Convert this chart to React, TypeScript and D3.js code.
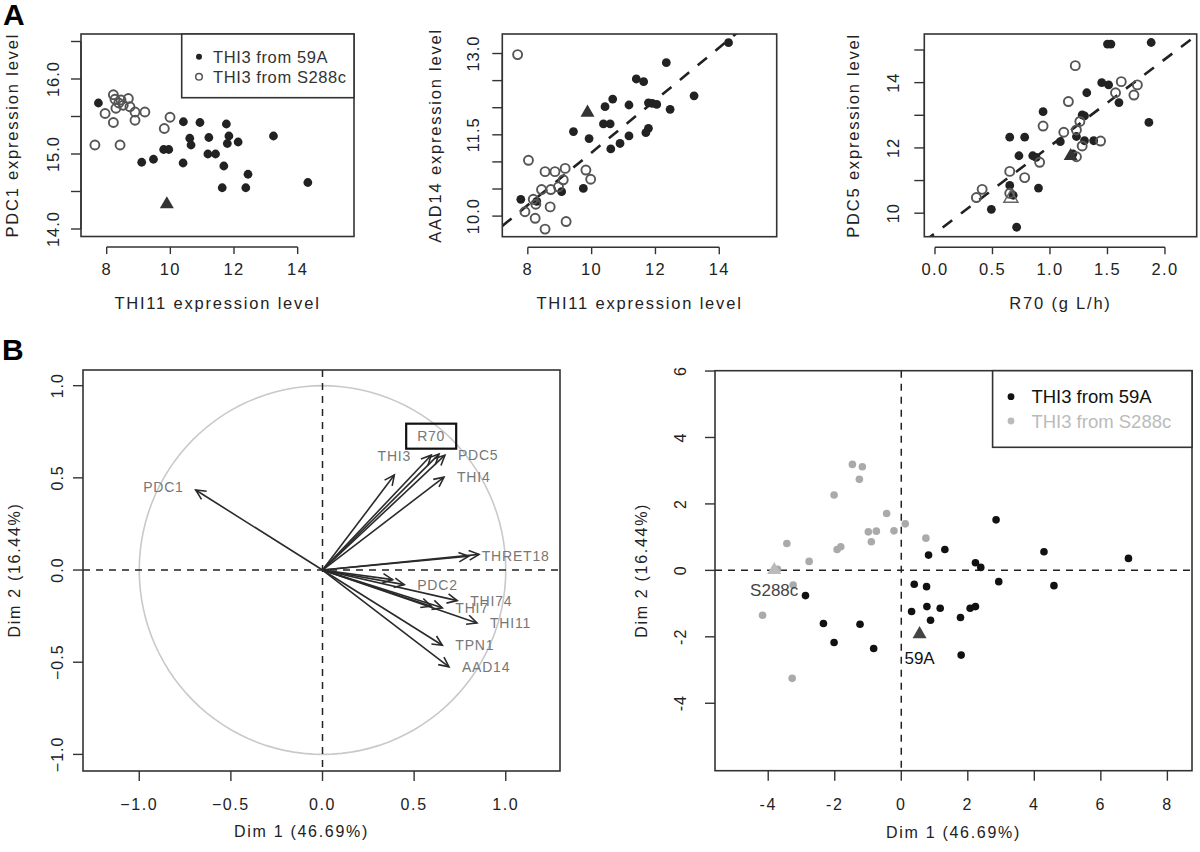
import React from "react";
import * as d3 from "d3";

const FONT = "'Liberation Sans', Arial, Helvetica, sans-serif";
type Pt = [number, number];

// ---------------- Panel A1 : THI11 vs PDC1 ----------------
const a1From59A: Pt[] = [[7.74,15.68],[10.41,15.43],[10.93,15.42],[11.76,15.40],[10.61,15.21],[10.65,15.12],[11.21,15.22],[11.84,15.24],[11.79,15.14],[12.13,15.16],[13.24,15.24],[9.79,15.06],[9.95,15.06],[9.10,14.89],[9.47,14.93],[10.40,14.88],[11.18,15.00],[11.42,15.00],[11.68,14.84],[12.44,14.73],[11.63,14.55],[12.37,14.55],[14.32,14.62]];
const a1FromS288c: Pt[] = [[8.21,15.79],[8.68,15.74],[8.26,15.73],[8.52,15.65],[8.73,15.63],[7.95,15.54],[8.29,15.61],[8.89,15.56],[9.20,15.56],[8.21,15.42],[8.89,15.45],[9.99,15.49],[9.81,15.34],[7.63,15.12],[8.42,15.12],[8.45,15.72],[8.38,15.68]];
const a1Parent59A: Pt[] = [[9.89,14.33]];

// ---------------- Panel A2 : THI11 vs AAD14 ----------------
const a2From59A: Pt[] = [[14.29,13.20],[12.34,12.83],[11.40,12.53],[11.63,12.48],[13.21,12.22],[10.66,12.16],[10.42,12.02],[11.17,12.05],[11.78,12.09],[11.90,12.08],[12.04,12.06],[12.46,11.97],[10.37,11.70],[10.58,11.70],[11.78,11.62],[11.70,11.54],[9.43,11.56],[9.92,11.43],[11.17,11.48],[10.89,11.34],[10.60,11.24],[9.74,10.51],[9.06,10.45],[7.78,10.31],[8.28,10.27]];
const a2FromS288c: Pt[] = [[7.68,12.98],[8.02,11.03],[8.54,10.82],[8.85,10.82],[9.17,10.88],[9.82,10.85],[9.97,10.68],[9.11,10.67],[8.43,10.49],[8.72,10.49],[8.96,10.54],[8.17,10.31],[8.25,10.22],[8.70,10.17],[7.91,10.08],[8.23,9.96],[9.20,9.90],[8.54,9.76]];
const a2Parent59A: Pt[] = [[9.87,11.91]];
const a2Fit = { intercept: 6.33, slope: 0.4843 };

// ---------------- Panel A3 : R70 vs PDC5 ----------------
const a3From59A: Pt[] = [[1.53,15.18],[1.50,15.18],[1.88,15.23],[1.45,14.00],[1.51,13.93],[1.32,13.69],[1.60,13.39],[0.94,13.11],[1.28,13.01],[1.30,12.98],[0.65,12.33],[0.78,12.33],[0.73,11.76],[0.85,11.76],[0.88,11.71],[1.09,12.19],[1.23,12.35],[1.30,12.22],[1.38,12.22],[1.20,11.82],[0.65,10.85],[0.90,10.77],[0.49,10.12],[0.71,9.57],[1.86,12.78],[0.68,10.55]];
const a3FromS288c: Pt[] = [[1.22,14.52],[1.16,13.42],[1.62,14.03],[1.76,13.93],[1.57,13.69],[1.73,13.62],[1.26,12.81],[1.23,12.55],[1.12,12.48],[1.44,12.21],[1.28,12.06],[1.23,11.73],[0.94,12.67],[0.91,11.56],[0.65,11.28],[0.78,11.09],[0.41,10.73],[0.36,10.48],[0.65,10.61]];
const a3Parent59A: Pt[] = [[1.18,11.75]];
const a3ParentS288c: Pt[] = [[0.66,10.46]];
const a3Fit = { intercept: 9.386, slope: 2.667 };

// ---------------- Panel B left : variables factor map ----------------
const varNames = ["PDC1","THI3","R70","","PDC5","THI4","THRET18","","PDC2","","THI74","THI7","","THI11","TPN1","AAD14"];
const varDim1 = [-0.692,0.392,0.593,0.636,0.668,0.663,0.798,0.854,0.446,0.383,0.735,0.654,0.593,0.843,0.654,0.690];
const varDim2 = [0.434,0.515,0.623,0.629,0.623,0.504,0.075,0.085,-0.079,-0.052,-0.166,-0.205,-0.196,-0.287,-0.408,-0.525];
const varLabelPos = [2,3,3,0,4,4,4,0,4,0,4,4,0,4,4,4]; // R text pos codes
const boxedVar = "R70";

// ---------------- Panel B right : individuals factor map ----------------
const indFrom59A: Pt[] = [[2.85,1.52],[4.29,0.56],[6.83,0.36],[1.31,0.63],[0.82,0.46],[2.23,0.23],[2.39,0.09],[2.93,-0.34],[4.59,-0.46],[0.39,-0.42],[0.76,-0.49],[-2.88,-0.76],[-2.34,-1.60],[-1.24,-1.62],[-2.02,-2.17],[-0.83,-2.35],[0.31,-1.24],[0.77,-1.09],[1.17,-1.14],[0.88,-1.50],[1.78,-1.42],[2.07,-1.14],[2.23,-1.09],[1.80,-2.55]];
const indFromS288c: Pt[] = [[-1.47,3.19],[-1.17,3.12],[-1.26,2.74],[-2.02,2.27],[-0.44,1.71],[0.12,1.40],[-0.99,1.16],[-0.75,1.18],[-0.22,1.19],[-0.90,0.86],[0.74,0.97],[-1.93,0.63],[-1.82,0.71],[-3.44,0.81],[-2.77,0.27],[-3.72,0.03],[-3.25,-0.44],[-4.17,-1.35],[-3.28,-3.25]];
const parentNames = ["59A","S288c"];
const parentDim1 = [0.55,-3.82];
const parentDim2 = [-1.92,0.01];

const legendLabels = ["THI3 from 59A","THI3 from S288c"];
const dim1Title = "Dim 1 (46.69%)";
const dim2Title = "Dim 2 (16.44%)";

const triPath = d3.symbol(d3.symbolTriangle, 85)() as string;

type Box = { l: number; t: number; r: number; b: number };

function YTickLabel({ x, y, text, size = 16 }: { x: number; y: number; text: string; size?: number }) {
  return (
    <text transform={`translate(${x},${y}) rotate(-90)`} textAnchor="middle" dominantBaseline="central" fontSize={size} letterSpacing={1} fill="#222">{text}</text>
  );
}

function PanelA(props: {
  id: string; box: Box; xDom: [number, number]; yDom: [number, number];
  xTicks: number[]; xFmt: (v: number) => string; yTicks: number[]; yLabeled: number[]; yFmt: (v: number) => string;
  xTitle: string; yTitle: string; filled: Pt[]; open: Pt[]; triFilled: Pt[]; triOpen?: Pt[];
  fit?: { intercept: number; slope: number }; legend?: boolean; yLabX: number; yTitleX: number;
}) {
  const { box } = props;
  const x = d3.scaleLinear().domain(props.xDom).range([box.l, box.r]);
  const y = d3.scaleLinear().domain(props.yDom).range([box.b, box.t]);
  const axisY = box.b + 10.5;
  const ink = "#333";
  let fitPath = "";
  if (props.fit) {
    const f = props.fit;
    const line = d3.line<number>().x((v) => x(v)).y((v) => y(f.intercept + f.slope * v));
    fitPath = line(props.xDom) || "";
  }
  return (
    <g>
      <defs>
        <clipPath id={`clip-${props.id}`}><rect x={box.l} y={box.t} width={box.r - box.l} height={box.b - box.t} /></clipPath>
      </defs>
      {fitPath && <path d={fitPath} stroke="#222" strokeWidth={2.6} strokeDasharray="12,11" fill="none" clipPath={`url(#clip-${props.id})`} />}
      {props.filled.map((p, i) => <circle key={`f${i}`} cx={x(p[0])} cy={y(p[1])} r={4.4} fill="#222" />)}
      {props.open.map((p, i) => <circle key={`o${i}`} cx={x(p[0])} cy={y(p[1])} r={4.5} fill="none" stroke="#555" strokeWidth={1.9} />)}
      {props.triFilled.map((p, i) => <path key={`t${i}`} d={triPath} transform={`translate(${x(p[0])},${y(p[1])})`} fill="#333" />)}
      {(props.triOpen || []).map((p, i) => <path key={`to${i}`} d={triPath} transform={`translate(${x(p[0])},${y(p[1])})`} fill="none" stroke="#666" strokeWidth={1.5} />)}
      <rect x={box.l} y={box.t} width={box.r - box.l} height={box.b - box.t} fill="none" stroke={ink} strokeWidth={1.6} />
      {/* x axis (offset below box) */}
      <line x1={x(props.xTicks[0])} x2={x(props.xTicks[props.xTicks.length - 1])} y1={axisY} y2={axisY} stroke={ink} strokeWidth={1.4} />
      {props.xTicks.map((t) => (
        <g key={`xt${t}`}>
          <line x1={x(t)} x2={x(t)} y1={axisY} y2={axisY + 7} stroke={ink} strokeWidth={1.4} />
          <text x={x(t)} y={axisY + 28} textAnchor="middle" fontSize={16.5} letterSpacing={1.4} fill="#222">{props.xFmt(t)}</text>
        </g>
      ))}
      <text x={(box.l + box.r) / 2} y={box.b + 72} textAnchor="middle" fontSize={16.5} letterSpacing={1.8} fill="#222">{props.xTitle}</text>
      {/* y axis */}
      <line x1={box.l} x2={box.l} y1={y(props.yTicks[0])} y2={y(props.yTicks[props.yTicks.length - 1])} stroke={ink} strokeWidth={1.4} />
      {props.yTicks.map((t) => (
        <line key={`yt${t}`} x1={box.l - 10} x2={box.l} y1={y(t)} y2={y(t)} stroke={ink} strokeWidth={1.4} />
      ))}
      {props.yLabeled.map((t) => <YTickLabel key={`yl${t}`} x={props.yLabX} y={y(t)} text={props.yFmt(t)} size={16.5} />)}
      <text transform={`translate(${props.yTitleX},${(box.t + box.b) / 2}) rotate(-90)`} textAnchor="middle" dominantBaseline="central" fontSize={16.5} letterSpacing={1.8} fill="#222">{props.yTitle}</text>
      {props.legend && (
        <g>
          <rect x={box.l + 100.7} y={box.t} width={box.r - box.l - 100.7} height={63.7} fill="white" stroke={ink} strokeWidth={1.6} />
          <circle cx={box.l + 118} cy={box.t + 22.7} r={3} fill="#222" />
          <circle cx={box.l + 118} cy={box.t + 42.7} r={3.3} fill="none" stroke="#555" strokeWidth={1.5} />
          {legendLabels.map((s, i) => (
            <text key={s} x={box.l + 132} y={box.t + 22.7 + 20 * i} dominantBaseline="central" fontSize={16.5} letterSpacing={0.6} fill="#333">{s}</text>
          ))}
        </g>
      )}
    </g>
  );
}

function VarMap() {
  const box: Box = { l: 83, t: 370, r: 560, b: 771 };
  const x = d3.scaleLinear().domain([-1.307, 1.296]).range([box.l, box.r]);
  const y = d3.scaleLinear().domain([-1.09, 1.085]).range([box.b, box.t]);
  const ticks = [-1, -0.5, 0, 0.5, 1];
  const fmt = d3.format(".1f");
  const circle = d3.range(0, 361, 3).map((a) => [Math.cos((a * Math.PI) / 180), Math.sin((a * Math.PI) / 180)] as Pt);
  const circlePath = d3.line<Pt>().x((d) => x(d[0])).y((d) => y(d[1]))(circle) || "";
  const ox = x(0), oy = y(0);
  const head = (x2: number, y2: number) => {
    const a = Math.atan2(y2 - oy, x2 - ox);
    const len = 11, ang = Math.PI / 7;
    return `M${x2 - len * Math.cos(a - ang)},${y2 - len * Math.sin(a - ang)}L${x2},${y2}L${x2 - len * Math.cos(a + ang)},${y2 - len * Math.sin(a + ang)}`;
  };
  return (
    <g>
      <path d={circlePath} fill="none" stroke="#c9c9c9" strokeWidth={1.6} />
      <line x1={box.l} x2={box.r} y1={oy} y2={oy} stroke="#222" strokeWidth={1.5} strokeDasharray="7,6" />
      <line x1={ox} x2={ox} y1={box.t} y2={box.b} stroke="#222" strokeWidth={1.5} strokeDasharray="7,6" />
      {varNames.map((n, i) => {
        const tx = x(varDim1[i]), ty = y(varDim2[i]);
        return (
          <g key={`v${i}`}>
            <line x1={ox} y1={oy} x2={tx} y2={ty} stroke="#2a2a2a" strokeWidth={1.6} />
            <path d={head(tx, ty)} fill="none" stroke="#2a2a2a" strokeWidth={1.6} />
          </g>
        );
      })}
      {varNames.map((n, i) => {
        if (!n) return null;
        const tx = x(varDim1[i]), ty = y(varDim2[i]);
        const pos = varLabelPos[i];
        let lx = tx, ly = ty, anchor: "start" | "middle" | "end" = "start";
        if (pos === 4) { lx = tx + 13; }
        if (pos === 2) { lx = tx - 12; anchor = "end"; ly = ty - 3; }
        if (pos === 3) { ly = ty - 19; anchor = "middle"; }
        if (pos === 1) { ly = ty + 19; anchor = "middle"; }
        return (
          <g key={`l${i}`}>
            <text x={lx} y={ly} textAnchor={anchor} dominantBaseline="central" fontSize={14} letterSpacing={0.8} fill="#777">{n}</text>
            {n === boxedVar && <rect x={lx - 25} y={ly - 12.5} width={50} height={25} fill="none" stroke="#111" strokeWidth={2.2} />}
          </g>
        );
      })}
      <rect x={box.l} y={box.t} width={box.r - box.l} height={box.b - box.t} fill="none" stroke="#333" strokeWidth={1.6} />
      {ticks.map((t) => (
        <g key={`x${t}`}>
          <line x1={x(t)} x2={x(t)} y1={box.b} y2={box.b + 10} stroke="#333" strokeWidth={1.4} />
          <text x={x(t)} y={810} textAnchor="middle" fontSize={16} letterSpacing={1.6} fill="#222">{fmt(t)}</text>
          <line x1={box.l - 10} x2={box.l} y1={y(t)} y2={y(t)} stroke="#333" strokeWidth={1.4} />
          <YTickLabel x={57} y={y(t)} text={fmt(t)} />
        </g>
      ))}
      <text x={(box.l + box.r) / 2 - 20} y={837} textAnchor="middle" fontSize={16} letterSpacing={1.7} fill="#222">{dim1Title}</text>
      <text transform={`translate(14,${oy}) rotate(-90)`} textAnchor="middle" dominantBaseline="central" fontSize={16} letterSpacing={1.7} fill="#222">{dim2Title}</text>
    </g>
  );
}

function IndMap() {
  const box: Box = { l: 715, t: 370.7, r: 1192, b: 770.7 };
  const x = d3.scaleLinear().domain([-5.6, 8.74]).range([box.l, box.r]);
  const y = d3.scaleLinear().domain([-6.03, 6.01]).range([box.b, box.t]);
  const xTicks = [-4, -2, 0, 2, 4, 6, 8];
  const yTicks = [-4, -2, 0, 2, 4, 6];
  const black = "#111", grey = "#aaaaaa";
  return (
    <g>
      <line x1={box.l} x2={box.r} y1={y(0)} y2={y(0)} stroke="#222" strokeWidth={1.5} strokeDasharray="7,6" />
      <line x1={x(0)} x2={x(0)} y1={box.t} y2={box.b} stroke="#222" strokeWidth={1.5} strokeDasharray="7,6" />
      {indFromS288c.map((p, i) => <circle key={`g${i}`} cx={x(p[0])} cy={y(p[1])} r={3.8} fill={grey} />)}
      {indFrom59A.map((p, i) => <circle key={`b${i}`} cx={x(p[0])} cy={y(p[1])} r={3.8} fill={black} />)}
      {parentNames.map((n, i) => (
        <g key={n}>
          <path d={triPath} transform={`translate(${x(parentDim1[i])},${y(parentDim2[i])})`} fill={i === 0 ? "#444" : "#bbb"} />
          <text x={x(parentDim1[i])} y={y(parentDim2[i]) + (i === 0 ? 24 : 20)} textAnchor="middle" dominantBaseline="central" fontSize={17} fill={i === 0 ? "#111" : "#444"}>{n}</text>
        </g>
      ))}
      <rect x={box.l} y={box.t} width={box.r - box.l} height={box.b - box.t} fill="none" stroke="#333" strokeWidth={1.6} />
      <rect x={992.6} y={box.t} width={box.r - 992.6} height={76.6} fill="white" stroke="#333" strokeWidth={1.6} />
      {legendLabels.map((s, i) => (
        <g key={s}>
          <circle cx={1011} cy={396.7 + 24.3 * i} r={3.4} fill={i === 0 ? black : "#bbb"} />
          <text x={1031.4} y={396.7 + 24.3 * i} dominantBaseline="central" fontSize={18.5} fill={i === 0 ? "#111" : "#bbb"}>{s}</text>
        </g>
      ))}
      {xTicks.map((t) => (
        <g key={`x${t}`}>
          <line x1={x(t)} x2={x(t)} y1={box.b} y2={box.b + 10} stroke="#333" strokeWidth={1.4} />
          <text x={x(t)} y={810} textAnchor="middle" fontSize={16} letterSpacing={1.6} fill="#222">{String(t)}</text>
        </g>
      ))}
      {yTicks.map((t) => (
        <g key={`y${t}`}>
          <line x1={box.l - 10} x2={box.l} y1={y(t)} y2={y(t)} stroke="#333" strokeWidth={1.4} />
          <YTickLabel x={680} y={y(t)} text={String(t)} />
        </g>
      ))}
      <text x={(box.l + box.r) / 2} y={838} textAnchor="middle" fontSize={16} letterSpacing={1.7} fill="#222">{dim1Title}</text>
      <text transform={`translate(641,${y(0)}) rotate(-90)`} textAnchor="middle" dominantBaseline="central" fontSize={16} letterSpacing={1.7} fill="#222">{dim2Title}</text>
    </g>
  );
}

export default function App() {
  const f1 = d3.format(".1f");
  return (
    <svg width={1200} height={852} style={{ position: "absolute", left: 0, top: 0, display: "block" }} fontFamily={FONT}>
      <rect width={1200} height={852} fill="white" />
      <text x={3} y={25} fontSize={30} fontWeight="bold" fill="#000">A</text>
      <text x={2} y={360} fontSize={30} fontWeight="bold" fill="#000">B</text>
      <PanelA id="a1" box={{ l: 81, t: 34, r: 354, b: 236.5 }} xDom={[7.193, 15.77]} yDom={[13.9, 16.6]}
        xTicks={[8, 10, 12, 14]} xFmt={(v) => String(v)} yTicks={[14, 14.5, 15, 15.5, 16, 16.5]} yLabeled={[14, 15, 16]} yFmt={f1}
        xTitle="THI11 expression level" yTitle="PDC1 expression level" filled={a1From59A} open={a1FromS288c} triFilled={a1Parent59A}
        legend yLabX={53} yTitleX={12} />
      <PanelA id="a2" box={{ l: 502.3, t: 34, r: 776.7, b: 236.7 }} xDom={[7.2, 15.8]} yDom={[9.62, 13.36]}
        xTicks={[8, 10, 12, 14]} xFmt={(v) => String(v)} yTicks={[10, 10.5, 11, 11.5, 12, 12.5, 13]} yLabeled={[10, 11.5, 13]} yFmt={f1}
        xTitle="THI11 expression level" yTitle="AAD14 expression level" filled={a2From59A} open={a2FromS288c} triFilled={a2Parent59A}
        fit={a2Fit} yLabX={473} yTitleX={435} />
      <PanelA id="a3" box={{ l: 924.3, t: 34, r: 1196.7, b: 236.7 }} xDom={[-0.093, 2.276]} yDom={[9.28, 15.49]}
        xTicks={[0, 0.5, 1, 1.5, 2]} xFmt={f1} yTicks={[10, 11, 12, 13, 14, 15]} yLabeled={[10, 12, 14]} yFmt={(v) => String(v)}
        xTitle="R70 (g L/h)" yTitle="PDC5 expression level" filled={a3From59A} open={a3FromS288c} triFilled={a3Parent59A} triOpen={a3ParentS288c}
        fit={a3Fit} yLabX={893} yTitleX={853} />
      <VarMap />
      <IndMap />
    </svg>
  );
}
